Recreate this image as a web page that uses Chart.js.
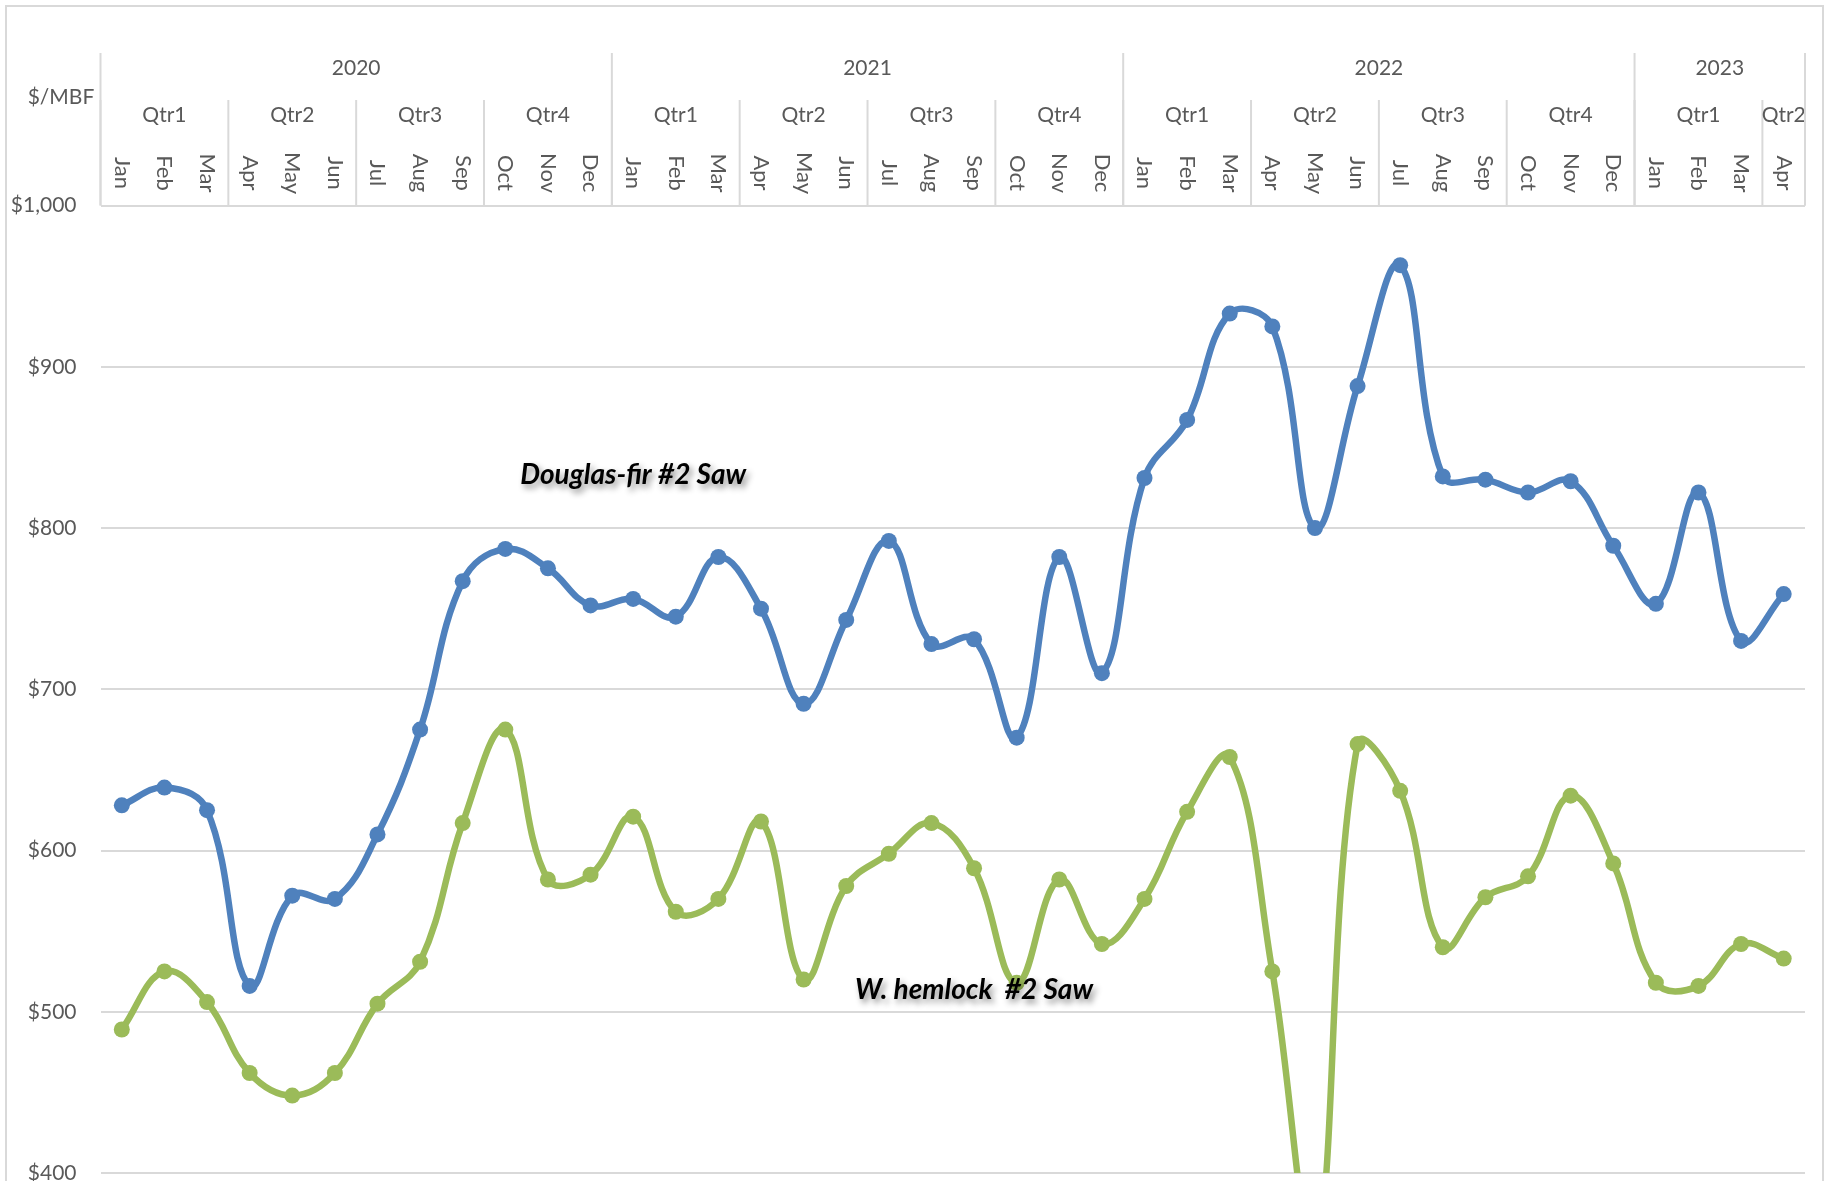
<!DOCTYPE html>
<html>
<head>
<meta charset="utf-8">
<title>Douglas-fir and W. hemlock #2 Saw prices</title>
<script src="https://cdn.jsdelivr.net/npm/chart.js@4/dist/chart.umd.min.js"></script>
<style>
  html, body { margin: 0; padding: 0; background: #fff; overflow: hidden; }
  canvas { display: block; }
</style>
</head>
<body>
<canvas id="kanpoa" width="1833" height="1181"></canvas>
<script>
// months Jan 2020 .. Apr 2023
const months = ['Jan','Feb','Mar','Apr','May','Jun','Jul','Aug','Sep','Oct','Nov','Dec',
                'Jan','Feb','Mar','Apr','May','Jun','Jul','Aug','Sep','Oct','Nov','Dec',
                'Jan','Feb','Mar','Apr','May','Jun','Jul','Aug','Sep','Oct','Nov','Dec',
                'Jan','Feb','Mar','Apr'];
const quarters = ['Qtr1','Qtr1','Qtr1','Qtr2','Qtr2','Qtr2','Qtr3','Qtr3','Qtr3','Qtr4','Qtr4','Qtr4',
                  'Qtr1','Qtr1','Qtr1','Qtr2','Qtr2','Qtr2','Qtr3','Qtr3','Qtr3','Qtr4','Qtr4','Qtr4',
                  'Qtr1','Qtr1','Qtr1','Qtr2','Qtr2','Qtr2','Qtr3','Qtr3','Qtr3','Qtr4','Qtr4','Qtr4',
                  'Qtr1','Qtr1','Qtr1','Qtr2'];
const years = ['2020','2020','2020','2020','2020','2020','2020','2020','2020','2020','2020','2020',
               '2021','2021','2021','2021','2021','2021','2021','2021','2021','2021','2021','2021',
               '2022','2022','2022','2022','2022','2022','2022','2022','2022','2022','2022','2022',
               '2023','2023','2023','2023'];

// $/MBF
const douglasFir = [628, 639, 625, 516, 572, 570, 610, 675, 767, 787, 775, 752,
                    756, 745, 782, 750, 691, 743, 792, 728, 731, 670, 782, 710,
                    831, 867, 933, 925, 800, 888, 963, 832, 830, 822, 829, 789,
                    753, 822, 730, 759];
const hemlock = [489, 525, 506, 462, 448, 462, 505, 531, 617, 675, 582, 585,
                 621, 562, 570, 618, 520, 578, 598, 617, 589, 518, 582, 542,
                 570, 624, 658, 525, 352, 666, 637, 540, 571, 584, 634, 592,
                 518, 516, 542, 533];

const yTicks = [400, 500, 600, 700, 800, 900, 1000];

// series labels written inside the plot
const notes = [
    { text: 'Douglas-fir #2 Saw', at: 12, value: 827 },
    { text: 'W. hemlock  #2 Saw', at: 20, value: 508 }
];

const GRID = '#d9d9d9';
const TEXT = '#595959';
const FONT = 'Lato, "Open Sans", sans-serif';

function runs(keys) {
    const out = [];
    keys.forEach((k, i) => {
        if (i === 0 || k !== keys[i - 1]) out.push({ start: i, end: i });
        else out[out.length - 1].end = i;
    });
    return out;
}

// frame, header rows (years / quarters / months) and the $/MBF title
const goiburua = {
    id: 'goiburua',
    beforeDraw(chart) {
        const ctx = chart.ctx;
        ctx.save();
        ctx.strokeStyle = GRID;
        ctx.lineWidth = 2;
        ctx.strokeRect(6, 6, 1817, 1260);
        ctx.restore();
    },
    afterDraw(chart) {
        const { ctx, chartArea } = chart;
        const x = chart.scales.x;
        const band = x.getPixelForValue(1) - x.getPixelForValue(0);
        const edge = i => x.getPixelForValue(i) - band / 2;
        const top = chartArea.top;

        ctx.save();
        ctx.strokeStyle = GRID;
        ctx.lineWidth = 2;
        ctx.fillStyle = TEXT;
        ctx.textAlign = 'center';
        ctx.textBaseline = 'middle';

        // months, rotated clockwise
        ctx.font = '22px ' + FONT;
        months.forEach((m, i) => {
            ctx.save();
            ctx.translate(x.getPixelForValue(i), 173);
            ctx.rotate(Math.PI / 2);
            ctx.fillText(m, 0, 0);
            ctx.restore();
        });

        ctx.font = '21px ' + FONT;
        const groupRow = (keys, names, lineTop, textY) => {
            runs(keys).forEach(r => {
                const a = edge(r.start), b = edge(r.end + 1);
                ctx.beginPath();
                ctx.moveTo(a, lineTop);
                ctx.lineTo(a, top);
                ctx.stroke();
                ctx.fillText(names[r.start], (a + b) / 2, textY);
            });
            const last = edge(keys.length);
            ctx.beginPath();
            ctx.moveTo(last, lineTop);
            ctx.lineTo(last, top);
            ctx.stroke();
        };
        groupRow(quarters.map((q, i) => years[i] + q), quarters, 100, 115);
        groupRow(years, years, 53, 68);

        ctx.fillText('$/MBF', 61, 97);
        ctx.restore();
    },
    afterDatasetsDraw(chart) {
        const { ctx } = chart;
        const x = chart.scales.x, y = chart.scales.y;
        ctx.save();
        ctx.font = 'italic bold 28px ' + FONT;
        ctx.fillStyle = '#000';
        ctx.textAlign = 'center';
        ctx.textBaseline = 'alphabetic';
        ctx.shadowColor = 'rgba(0,0,0,0.45)';
        ctx.shadowBlur = 6;
        ctx.shadowOffsetX = 3;
        ctx.shadowOffsetY = 4;
        notes.forEach(n => {
            ctx.fillText(n.text, x.getPixelForValue(n.at), y.getPixelForValue(n.value));
        });
        ctx.restore();
    }
};

function seriesa(label, data, color) {
    return {
        label,
        data,
        borderColor: color,
        backgroundColor: color,
        pointBackgroundColor: color,
        pointBorderColor: color,
        borderWidth: 6.5,
        pointRadius: 8,
        pointBorderWidth: 0,
        pointHoverRadius: 8,
        tension: 0.4,
        fill: false
    };
}

new Chart(document.getElementById('kanpoa'), {
    type: 'line',
    data: {
        labels: months,
        datasets: [
            seriesa('Douglas-fir #2 Saw', douglasFir, '#4f81bd'),
            seriesa('W. hemlock #2 Saw', hemlock, '#9bbb59')
        ]
    },
    options: {
        responsive: false,
        animation: false,
        events: [],
        layout: { padding: { left: 0, right: 28, top: 0, bottom: -5 } },
        plugins: {
            legend: { display: false },
            tooltip: { enabled: false }
        },
        scales: {
            x: {
                type: 'category',
                position: 'top',
                offset: true,
                grid: { display: false },
                border: { display: false },
                ticks: { display: false },
                afterFit: s => { s.height = 205.5; }
            },
            y: {
                min: yTicks[0],
                max: yTicks[yTicks.length - 1],
                afterBuildTicks: s => { s.ticks = yTicks.map(v => ({ value: v })); },
                border: { display: false },
                grid: { color: GRID, lineWidth: 2, drawTicks: false },
                ticks: {
                    color: TEXT,
                    font: { family: FONT, size: 21 },
                    padding: 24,
                    callback: v => '$' + v.toLocaleString('en-US')
                },
                afterFit: s => {
                    s.width = 100.5;
                    s.paddingTop = 0;
                    s.paddingBottom = 0;
                }
            }
        }
    },
    plugins: [goiburua]
});
</script>
</body>
</html>
